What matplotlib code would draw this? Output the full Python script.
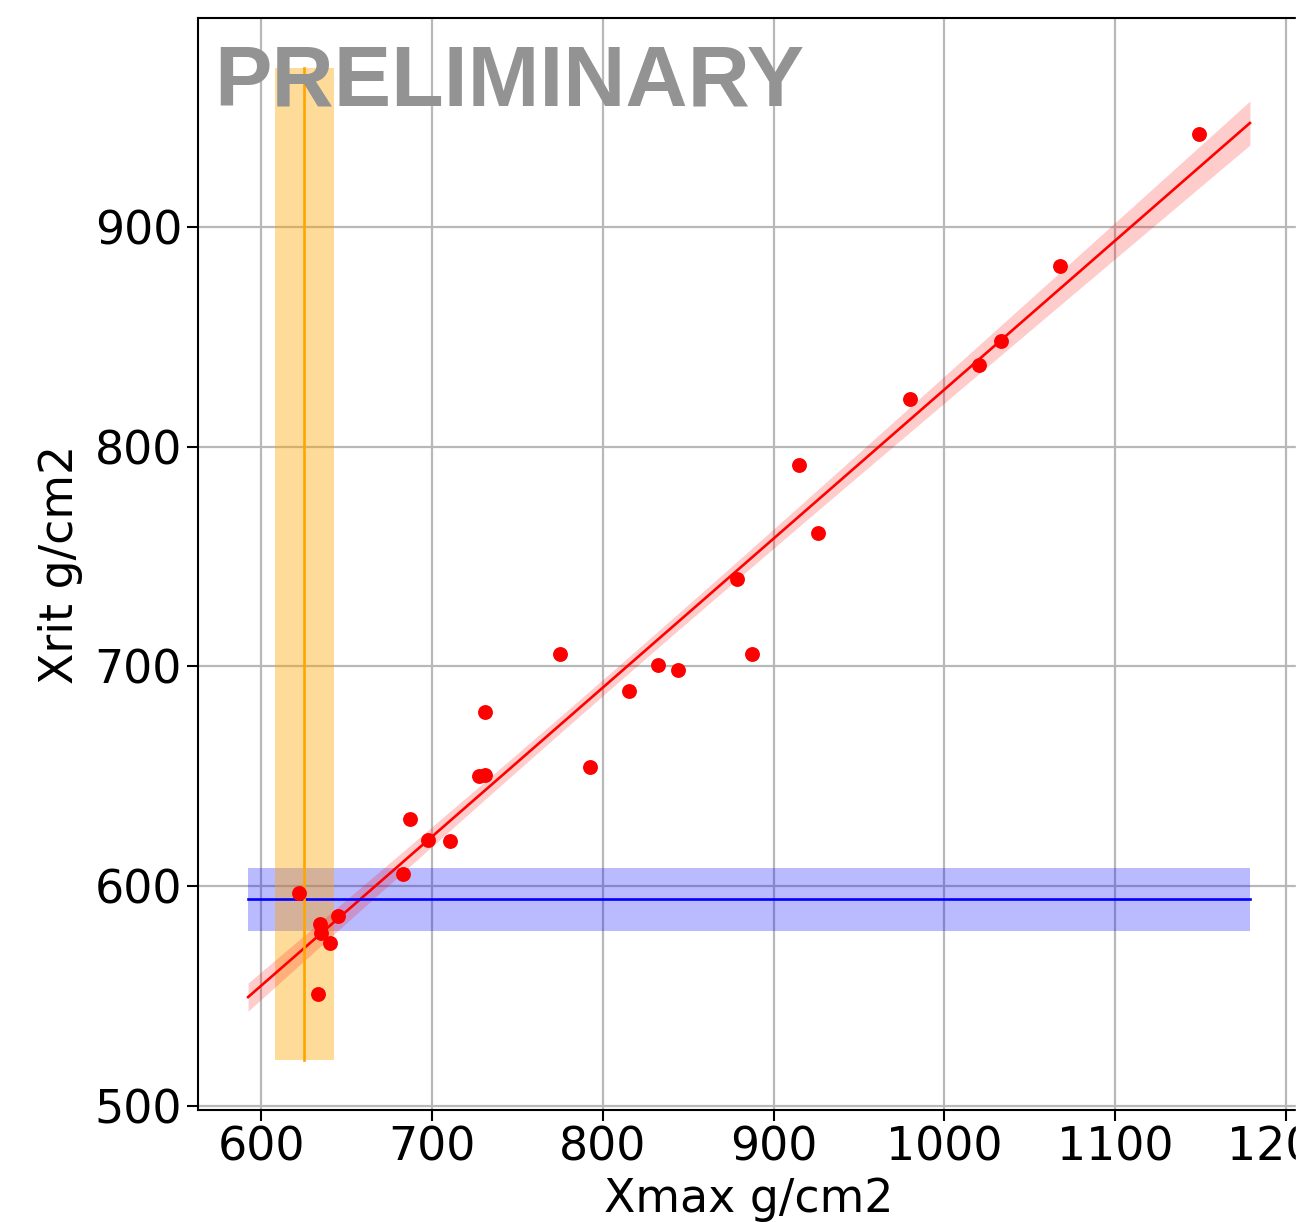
import numpy as np
import matplotlib.pyplot as plt
from matplotlib.patches import Rectangle

# Xmax vs Xrit per event (g/cm2)
xmax = [622.3, 633.4, 634.6, 635.2, 640.5, 645.2, 683.3, 687.4, 697.4, 710.3,
        727.3, 730.8, 730.8, 774.8, 792.4, 815.2, 832.3, 844.0, 878.6, 887.4,
        915.0, 926.1, 980.0, 1020.5, 1033.4, 1068.0, 1149.0]
xrit = [596.8, 550.9, 582.7, 578.6, 574.1, 586.4, 605.5, 630.5, 620.9, 620.5,
        650.0, 650.5, 679.5, 705.5, 654.5, 689.0, 700.9, 698.2, 740.0, 705.9,
        791.4, 760.5, 821.8, 837.3, 848.2, 882.3, 942.3]

# reference levels with their uncertainties
xmax_ref, xmax_ref_err = 625.2, 17.3
xrit_ref, xrit_ref_err = 594.1, 14.3
pad = 30

x = np.array(xmax)
y = np.array(xrit)

coef, cov = np.polyfit(x, y, 1, cov=True)
xs = np.linspace(x.min() - pad, x.max() + pad, 200)
fit = np.polyval(coef, xs)
J = np.vstack([xs, np.ones_like(xs)]).T
err = np.sqrt(np.einsum("ij,jk,ik->i", J, cov, J))

fig = plt.figure(figsize=(13.07, 12.22), dpi=100)
ax = fig.add_axes([198 / 1307, 112 / 1222, 1102 / 1307, 1092 / 1222])

ax.plot(xs, fit, color="red", lw=1.9, zorder=3)
ax.fill_between(xs, fit - err, fit + err, color="red", alpha=0.2, lw=0, zorder=2)

ax.scatter(x, y, color="red", s=115, zorder=4, linewidths=0)

hx = np.array([x.min() - pad, x.max() + pad])
ax.plot(hx, [xrit_ref, xrit_ref], color="blue", lw=1.9, zorder=3)
ax.fill_between(hx, xrit_ref - xrit_ref_err, xrit_ref + xrit_ref_err,
                color="blue", alpha=0.27, lw=0, zorder=1)

vy = np.array([y.min() - pad, y.max() + pad])
ax.plot([xmax_ref, xmax_ref], vy, color="orange", lw=1.9, zorder=3)
ax.fill_betweenx(vy, xmax_ref - xmax_ref_err, xmax_ref + xmax_ref_err,
                 color="orange", alpha=0.4, lw=0, zorder=1)

ax.set_yticks([500, 600, 700, 800, 900])
ax.grid(True, color="#b8b8b8", lw=1.6)
ax.set_axisbelow(True)
ax.tick_params(labelsize=33, length=8, width=1.5)
for s in ax.spines.values():
    s.set_linewidth(1.5)

ax.set_xlabel("Xmax g/cm2", fontsize=33, labelpad=4)
ax.set_ylabel("Xrit g/cm2", fontsize=33, labelpad=8)

ax.text(0.015, 0.92, "PRELIMINARY", transform=ax.transAxes,
        fontsize=62, fontweight="bold", family="Liberation Sans",
        color="#939393", va="baseline", zorder=5)

# trim the right edge of the canvas
fig.add_artist(Rectangle((1296 / 1307, 0), 1, 1, transform=fig.transFigure,
                         color="white", zorder=10))

fig.savefig("out.png", dpi=100)
